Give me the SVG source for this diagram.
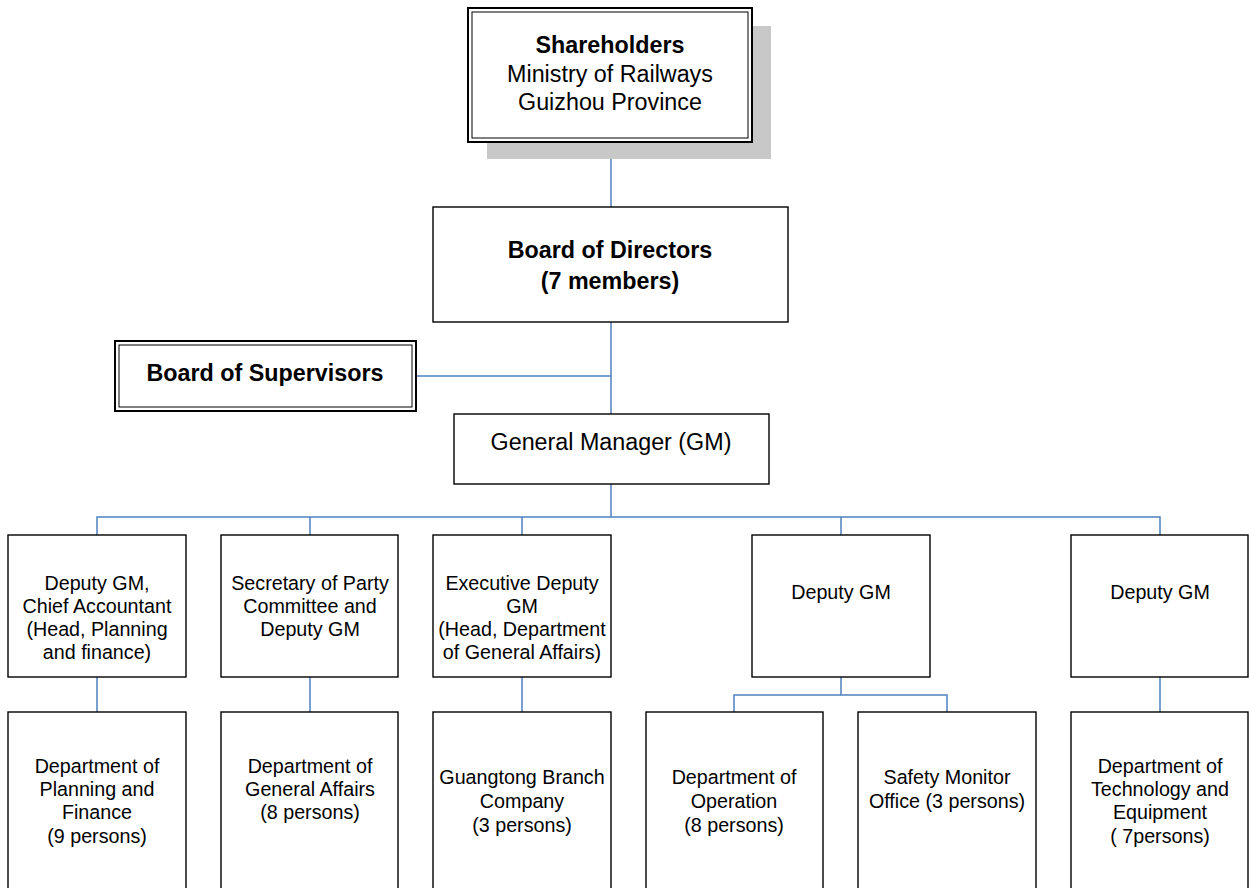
<svg xmlns="http://www.w3.org/2000/svg" width="1249" height="888" viewBox="0 0 1249 888">
<style>
.box{fill:#fff;stroke:#000;stroke-width:1.4}
.dbl{fill:none;stroke:#000;stroke-width:2}
.dbli{fill:none;stroke:#000;stroke-width:1}
.t{font-family:"Liberation Sans",Arial,sans-serif;font-size:19.7px;fill:#000;text-anchor:middle;dominant-baseline:central}
.l{font-size:23.3px}
.b{font-weight:bold}
#connectors path{fill:none;stroke:#4f81bd;stroke-width:1.5}
</style>
<rect width="1249" height="888" fill="#fff"/>
<g id="connectors">
<path d="M611 142V207"/>
<path d="M611 322V414"/>
<path d="M416 376H611"/>
<path d="M611 484V517"/>
<path d="M97 535V517H1160V535M310 517V535M522 517V535M841 517V535"/>
<path d="M97 677V712M310 677V712M522 677V712M1160 677V712"/>
<path d="M841 677V695M734 712V695H947V712"/>
</g>
<g id="shareholders">
<rect x="487" y="26" width="284" height="133" fill="#c8c8c8"/>
<rect x="468" y="8" width="284" height="134" fill="#fff"/>
<rect class="dbl" x="468" y="8" width="284" height="134"/>
<rect class="dbli" x="472" y="12" width="276" height="126"/>
<text class="t l b" x="610" y="45">Shareholders</text>
<text class="t l" x="610" y="74">Ministry of Railways</text>
<text class="t l" x="610" y="102">Guizhou Province</text>
</g>
<g id="board-directors">
<rect class="box" x="433" y="207" width="355" height="115"/>
<text class="t l b" x="610" y="250">Board of Directors</text>
<text class="t l b" x="610" y="281">(7 members)</text>
</g>
<g id="board-supervisors">
<rect fill="#fff" x="115" y="341" width="301" height="70"/>
<rect class="dbl" x="115" y="341" width="301" height="70"/>
<rect class="dbli" x="119" y="345" width="293" height="62"/>
<text class="t l b" x="265" y="373">Board of Supervisors</text>
</g>
<g id="gm">
<rect class="box" x="454" y="414" width="315" height="70"/>
<text class="t l" x="611" y="442">General Manager (GM)</text>
</g>
<g id="dgm-chief-accountant">
<rect class="box" x="8" y="535" width="178" height="142"/>
<text class="t" x="97" y="583">Deputy GM,</text>
<text class="t" x="97" y="606">Chief Accountant</text>
<text class="t" x="97" y="629">(Head, Planning</text>
<text class="t" x="97" y="652">and finance)</text>
</g>
<g id="secretary">
<rect class="box" x="221" y="535" width="177" height="142"/>
<text class="t" x="310" y="583">Secretary of Party</text>
<text class="t" x="310" y="606">Committee and</text>
<text class="t" x="310" y="629">Deputy GM</text>
</g>
<g id="exec-dgm">
<rect class="box" x="433" y="535" width="178" height="142"/>
<text class="t" x="522" y="583">Executive Deputy</text>
<text class="t" x="522" y="606">GM</text>
<text class="t" x="522" y="629">(Head, Department</text>
<text class="t" x="522" y="652">of General Affairs)</text>
</g>
<g id="dgm-4">
<rect class="box" x="752" y="535" width="178" height="142"/>
<text class="t" x="841" y="592">Deputy GM</text>
</g>
<g id="dgm-5">
<rect class="box" x="1071" y="535" width="177" height="142"/>
<text class="t" x="1160" y="592">Deputy GM</text>
</g>
<g id="dept-planning">
<rect class="box" x="8" y="712" width="178" height="190"/>
<text class="t" x="97" y="766">Department of</text>
<text class="t" x="97" y="789">Planning and</text>
<text class="t" x="97" y="812">Finance</text>
<text class="t" x="97" y="836">(9 persons)</text>
</g>
<g id="dept-general">
<rect class="box" x="221" y="712" width="177" height="190"/>
<text class="t" x="310" y="766">Department of</text>
<text class="t" x="310" y="789">General Affairs</text>
<text class="t" x="310" y="812">(8 persons)</text>
</g>
<g id="guangtong">
<rect class="box" x="433" y="712" width="178" height="190"/>
<text class="t" x="522" y="777">Guangtong Branch</text>
<text class="t" x="522" y="801">Company</text>
<text class="t" x="522" y="825">(3 persons)</text>
</g>
<g id="dept-operation">
<rect class="box" x="646" y="712" width="177" height="190"/>
<text class="t" x="734" y="777">Department of</text>
<text class="t" x="734" y="801">Operation</text>
<text class="t" x="734" y="825">(8 persons)</text>
</g>
<g id="safety">
<rect class="box" x="858" y="712" width="178" height="190"/>
<text class="t" x="947" y="777">Safety Monitor</text>
<text class="t" x="947" y="801">Office (3 persons)</text>
</g>
<g id="dept-tech">
<rect class="box" x="1071" y="712" width="177" height="190"/>
<text class="t" x="1160" y="766">Department of</text>
<text class="t" x="1160" y="789">Technology and</text>
<text class="t" x="1160" y="812">Equipment</text>
<text class="t" x="1160" y="836">( 7persons)</text>
</g>
</svg>
